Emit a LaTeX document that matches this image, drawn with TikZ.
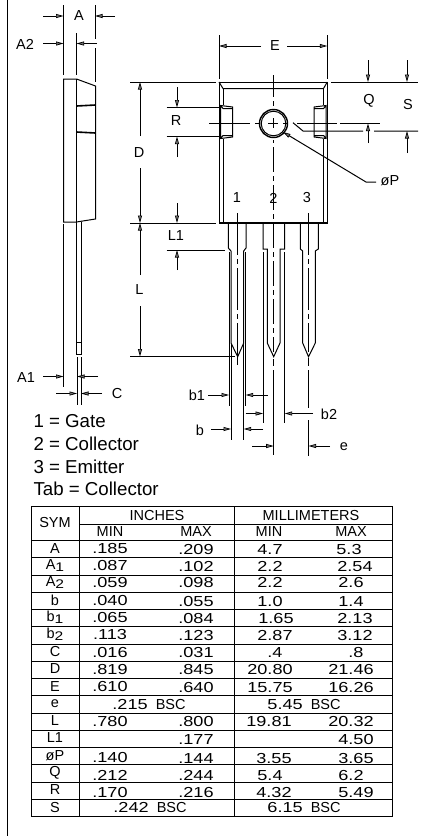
\documentclass[tikz,border=0pt]{standalone}
\usepackage{fontspec}
\setmainfont{Liberation Sans}
\newfontfamily\numfont[FakeStretch=1.25]{Liberation Sans}
\usetikzlibrary{arrows.meta}
\newcommand{\lowdigit}[1]{\raisebox{-2.5pt}{\fontsize{12.5}{13}\selectfont\numfont #1}}
\begin{document}
\begin{tikzpicture}[x=1pt,y=-1pt,line width=1pt]
          \tikzstyle{dimarrow}=[-{Triangle[length=7.5pt,width=4pt,fill=black!55,line width=.7pt]}]
          \tikzstyle{centerline}=[line width=.9pt,dash pattern=on 42pt off 4pt on 5pt off 4pt]
          \tikzstyle{cadlabel}=[inner sep=0pt,font=\fontsize{14.5}{15}\selectfont]
          \tikzstyle{legend}=[inner sep=0pt,anchor=west,font=\fontsize{18.7}{19}\selectfont]
          \tikzstyle{cell}=[inner sep=0pt,font=\fontsize{14.5}{15}\selectfont]
          \tikzstyle{numcell}=[inner sep=0pt,font=\fontsize{14.5}{15}\selectfont\numfont]
          \useasboundingbox (0,0) rectangle (422,836);
          \draw (7.3,0) -- (7.3,836);
          \draw (63.5,79) -- (76.5,79) -- (95.5,86) -- (95.5,219) -- (76.5,222) -- (63.5,222) -- cycle;
          \draw (76.5,79) -- (76.5,222);
          \draw[line width=1.6pt] (76.5,106) -- (95.5,105) (76.5,132) -- (95.5,133);
          \draw (76.5,222) -- (76.5,354) -- (81,354) -- (81,222) (76.5,342) -- (81,342);
          \foreach \xa/\ya/\xb/\yb in {63.5/5/63.5/75,95/5/95/39,95/48/95/82,76.5/33/76.5/75,63.5/224/63.5/387,
              77/357/77/405,81/357/81/405,219/35/219/79,327.3/35/327.3/79,130/82/216/82,331/82/418/82,
              166.5/107.5/220/107.5,166.5/136.5/220/136.5,130/223/216/223,166.5/250/225/250,130/356.5/235/356.5,
              229/252/229/406,245.7/252/245.7/406,231/344/231/440,243.7/344/243.7/440,263/252/263/423,284.7/252/284.7/423,
              273.7/370/273.7/455,308.5/370/308.5/408,308.5/420/308.5/456,273.7/359/273.7/366,308.5/358/308.5/366}
              \draw (\xa,\ya) -- (\xb,\yb);
          \draw (219,82) rectangle (327.3,223);
          \draw[line width=1.7pt] (219,222.7) -- (327.3,222.7);
          \draw (219,82) -- (223,88.5) -- (323.5,88.5) -- (327.3,82);
          \draw (223,88.5) -- (223,105) (223,139) -- (223,222) (323.5,88.5) -- (323.5,105) (323.5,139) -- (323.5,222);
          \foreach \m/\s in {0/1,546.6/-1}
              \draw[xshift=\m pt,xscale=\s] (220.5,105.5) -- (232.5,107) -- (232.5,137) -- (220.5,138.5) -- cycle
                  (220.5,105.5) -- (223,108.5) -- (232.5,108.5) (220.5,138.5) -- (223,135.5) -- (232.5,135.5);
          \draw[line width=1.4pt] (273.5,123.5) circle (14);
          \draw (273.5,123.5) circle (12.3);
          \foreach \xa/\xb in {209/250,255/260,268/278,283/288,297/337,340/380}
              \draw (\xa,123.5) -- (\xb,123.5);
          \foreach \ya/\yb in {75/97,101/106,118/128,140/143}
              \draw (273.6,\ya) -- (273.6,\yb);
          \draw[line width=.9pt,dash pattern=on 25pt off 4pt on 5pt off 4pt] (273.7,147) -- (273.7,352);
          \draw[centerline] (237.7,213) -- (237.7,367);
          \draw[centerline] (308.5,213) -- (308.5,352);
          \draw (228.3,223) -- (228.3,248) -- (231,251) -- (231,343) -- (237.7,356.7) -- (243.7,343) -- (243.7,251) -- (246,248) -- (246,223);
          \draw (263,223) -- (263,249) -- (267.3,249) -- (267.3,343) -- (273.7,356.7) -- (280,343) -- (280,249) -- (284.7,249) -- (284.7,223);
          \draw (300.3,223) -- (300.3,249) -- (302.7,251) -- (302.7,343) -- (308.5,356.7) -- (315.3,343) -- (315.3,251) -- (318.3,249) -- (318.3,223);
          \draw (293,122.7) -- (303,131) -- (363,131) (374,131) -- (418,131);
          \foreach \xa/\ya/\xb/\yb in {43/16/63.5/16,115/16/95/16,43/43.5/63.5/43.5,97/43.5/76.5/43.5,
              43/376.5/63.5/376.5,98/376.5/77/376.5,56/393.5/77/393.5,102/393.5/81/393.5,
              261/46/219/46,287/46/327.3/46,177/87/177/107.5,177/157/177/136.5,140/136/140/82,140/168/140/223,
              177/203/177/223,177/270/177/250,140/275/140/223,140/306/140/356.5,
              208/395/229/395,267.7/395/245.7/395,245.7/413.5/263/413.5,313/413.5/284.7/413.5,
              211/429/231/429,263/429/243.7/429,252/446/273.7/446,330/446/308.5/446,
              368/60/368/82,407/60/407/82,368/143/368/123.5,407/153/407/131}
              \draw[dimarrow] (\xa,\ya) -- (\xb,\yb);
          \draw[dimarrow] (376,182) -- (366,182) -- (283,132);
          \foreach \name/\xa/\ya/\txt in {labA/79/16/A,labAtwo/25/44/A2,labAone/26/378/A1,labC/117/394/C,labE/275/46/E,
              labD/139/153/D,labR/176/121/R,labLone/176/236/L1,labL/139.5/290/L,labQ/369/101/Q,labS/408/105/S,labP/390/181/øP,
              labOne/237/198/1,labTwo/273.5/198/2,labThree/307/198/3,labBone/197/395/b1,labB/200/430/b,labBtwo/329/414/b2,labSmallE/344/447/e}
              \node[cadlabel] (\name) at (\xa,\ya) {\txt};
          \node[legend] (gate) at (33,421) {1 = Gate};
          \node[legend] (collector) at (33,443.5) {2 = Collector};
          \node[legend] (emitter) at (33,466.5) {3 = Emitter};
          \node[legend] (tab) at (33,488.5) {Tab = Collector};
          \draw (31,506) rectangle (392.7,816.7);
          \draw (79,506) -- (79,816.7) (234,506) -- (234,816.7) (79,524) -- (392.7,524);
          \foreach \i in {0,...,15}
              \draw (31,540.7+17.25*\i) -- (392.7,540.7+17.25*\i);
          \node[cell] (sym) at (55,523) {SYM};
          \node[cell] (inches) at (157,515.5) {INCHES};
          \node[cell] (millimeters) at (311,515.5) {MILLIMETERS};
          \node[cell] (minin) at (110,532) {MIN};
          \node[cell] (maxin) at (196,532) {MAX};
          \node[cell] (minmm) at (269,532) {MIN};
          \node[cell] (maxmm) at (351,532) {MAX};
          \foreach \s/\ia/\ib/\ma/\mb/\xa/\xb/\dy [count=\i from 0] in {
              A/.185/.209/4.7/5.3/270/349/8,
              A\lowdigit{1}/.087/.102/2.2/2.54/270/355/8,
              A\lowdigit{2}/.059/.098/2.2/2.6/270/351/7,
              b/.040/.055/1.0/1.4/270/351/8.5,
              b\lowdigit{1}/.065/.084/1.65/2.13/276/355/8,
              b\lowdigit{2}/.113/.123/2.87/3.12/275/355/8,
              C/.016/.031/.4/.8/275/356/8,
              D/.819/.845/20.80/21.46/270/351/8,
              E/.610/.640/15.75/16.26/270/351/8,
              L/.780/.800/19.81/20.32/269/351/8,
              L1//.177//4.50/270/356/8.5,
              øP/.140/.144/3.55/3.65/274/356/10,
              Q/.212/.244/5.4/6.2/270/351/10,
              R/.170/.216/4.32/5.49/274/356/10}
          {
              \pgfmathsetmacro{\rownum}{\i>8 ? \i+1 : \i}
              \pgfmathsetmacro{\rowy}{540.7+17.25*\rownum}
              \node[cell] (sym\i) at (55,\rowy+7.5) {\s};
              \node[numcell] (inmin\i) at (110,\rowy+\dy) {\ia};
              \node[numcell] (inmax\i) at (196,\rowy+\dy+.5) {\ib};
              \node[numcell] (mmmin\i) at (\xa,\rowy+\dy+.5) {\ma};
              \node[numcell] (mmmax\i) at (\xb,\rowy+\dy+.5) {\mb};
          }
          \node[cell] (syme) at (55,704) {e};
          \node[cell] (inbsce) at (149,704) {{\numfont .215}\ \ BSC};
          \node[cell] (mmbsce) at (304,704) {{\numfont 5.45}\ \ BSC};
          \node[cell] (symS) at (55,807.5) {S};
          \node[cell] (inbscS) at (150,807.5) {{\numfont .242}\ \ BSC};
          \node[cell] (mmbscS) at (304,807.5) {{\numfont 6.15}\ \ BSC};
      \end{tikzpicture}
\end{document}
